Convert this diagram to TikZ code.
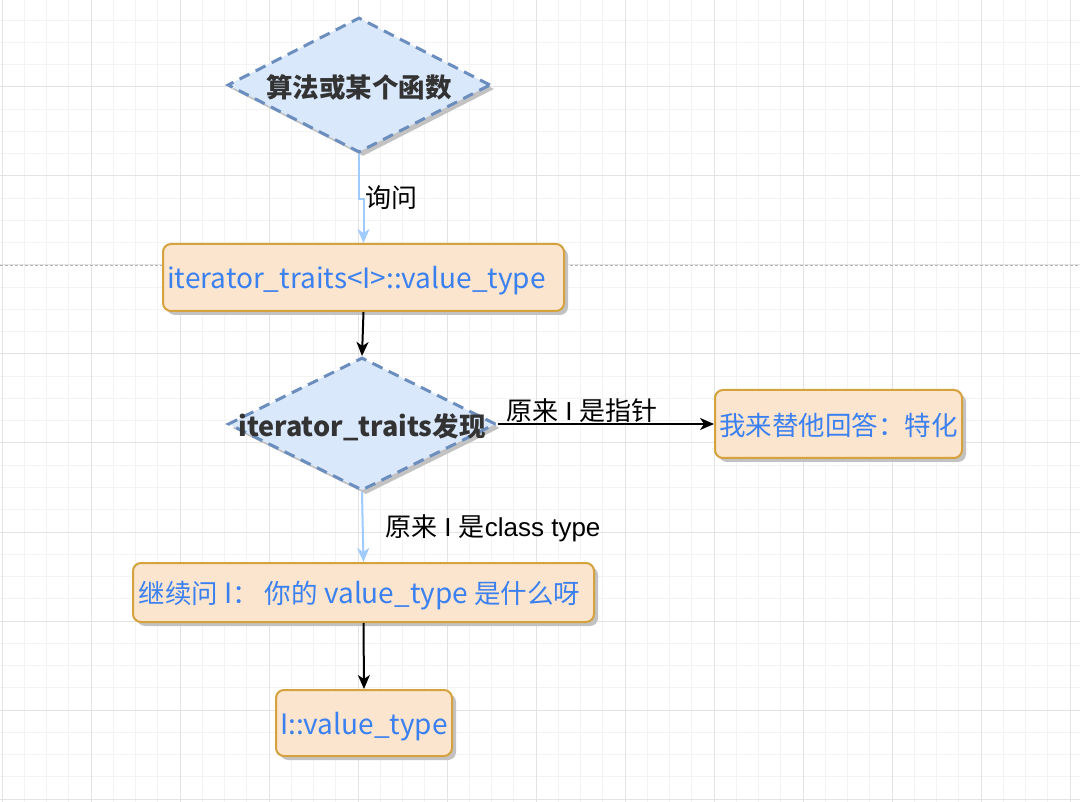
\documentclass[tikz,border=0pt]{standalone}
\usepackage{fontspec}
\setmainfont{Noto Sans CJK SC}
\newfontfamily\lat{Liberation Sans}
\usetikzlibrary{shapes.geometric,shadows,arrows.meta}
\definecolor{dfill}{HTML}{DAE8FC}
\definecolor{dline}{HTML}{6C8EBF}
\definecolor{bfill}{HTML}{FBE5CE}
\definecolor{bline}{HTML}{D6A23E}
\definecolor{btext}{HTML}{3A80F0}
\definecolor{dtext}{HTML}{333333}
\definecolor{ablue}{HTML}{9FCBFF}
\definecolor{gminor}{HTML}{F3F3F3}
\definecolor{gmajor}{HTML}{E3E3E3}
\newcommand\latb[1]{{\fontsize{28}{32}\selectfont #1}}
\newcommand\latd[1]{{\fontsize{27}{32}\selectfont #1}}
\newcommand\lowr[2]{\raisebox{-#1}[\height][\depth]{#2}}
\tikzset{
  shadowed/.style={drop shadow={shadow xshift=4pt, shadow yshift=-4pt, fill=black!24, opacity=1}},
  decision/.style={diamond, draw=dline, fill=dfill, line width=3pt, dash pattern=on 11pt off 7pt,
    inner sep=0pt, text=dtext, font=\fontsize{26.5}{30}\selectfont\bfseries, shadowed},
  process/.style={rectangle, rounded corners=8pt, draw=bline, fill=bfill, line width=2pt,
    inner sep=0pt, text=btext, font=\fontsize{26.5}{30}\selectfont, shadowed},
  elabel/.style={text=black, font=\fontsize{26}{30}\selectfont, inner sep=0pt},
  blackarrow/.style={draw=black, line width=2pt, -{Stealth[length=14pt,width=12pt,inset=4pt]}},
  bluearrow/.style={draw=ablue, line width=2pt, -{Stealth[length=14pt,width=12pt,inset=4pt]}},
}
\begin{document}
\begin{tikzpicture}[x=1pt,y=-1pt]
\path[use as bounding box, fill=white] (0,0) rectangle (1080,802);
% grid
\foreach \i in {0,...,49} {
  \draw[gminor, line width=1pt] ({2+22.25*\i},0) -- ({2+22.25*\i},802);
}
\foreach \i in {0,...,37} {
  \draw[gminor, line width=1pt] (0,{-2+22.25*\i}) -- (1080,{-2+22.25*\i});
}
\foreach \i in {0,...,12} {
  \draw[gmajor, line width=1pt] ({2+89*\i},0) -- ({2+89*\i},802);
}
\foreach \i in {0,...,9} {
  \draw[gmajor, line width=1pt] (0,{-2+89*\i}) -- (1080,{-2+89*\i});
}
\draw[black!30, line width=0.8pt, dash pattern=on 3pt off 2pt] (0,265) -- (1080,265);

% nodes
\node[decision, minimum width=263pt, minimum height=135pt] (d1) at (359,85)
  {\makebox[0pt]{\lowr{2pt}{算法或某个函数}}};
\node[process, minimum width=401pt, minimum height=67pt] (b1) at (363.5,277.5)
  {\lowr{3pt}{\latb{iterator\_traits<I>::value\_type}}\hspace*{14pt}};
\node[decision, minimum width=268pt, minimum height=133pt] (d2) at (362,424)
  {\makebox[0pt]{\lowr{3pt}{\latd{iterator\_traits}发现}}};
\node[process, minimum width=247pt, minimum height=68pt] (b2) at (838.5,424)
  {\lowr{1pt}{我来替他回答：特化}};
\node[process, minimum width=461pt, minimum height=59pt] (b3) at (363.5,592.5)
  {\lowr{3pt}{继续问\latb{\ I}： 你的\latb{\ value\_type\ }是什么呀}\hspace*{8pt}};
\node[process, minimum width=176pt, minimum height=66pt] (b4) at (364,723)
  {\lowr{4pt}{\latb{I::value\_type}}};

% labels
\node[elabel, anchor=west] (l1) at (365,198) {询问};
\node[elabel, anchor=south west] (l2) at (506,423) {原来{\lat\ I\ }是指针};
\node[elabel, anchor=west] (l3) at (385,528) {原来{\lat\ I\ }是{\lat class type}};

% connectors
\draw[bluearrow] (d1.south) -- ++(0,45) -| (b1.north);
\draw[blackarrow] (b1.south) -- (d2.north);
\draw[blackarrow] (d2.east) -- (b2.west);
\draw[bluearrow] (d2.south) -- (b3.north);
\draw[blackarrow] (b3.south) -- (b4.north);
\end{tikzpicture}
\end{document}
